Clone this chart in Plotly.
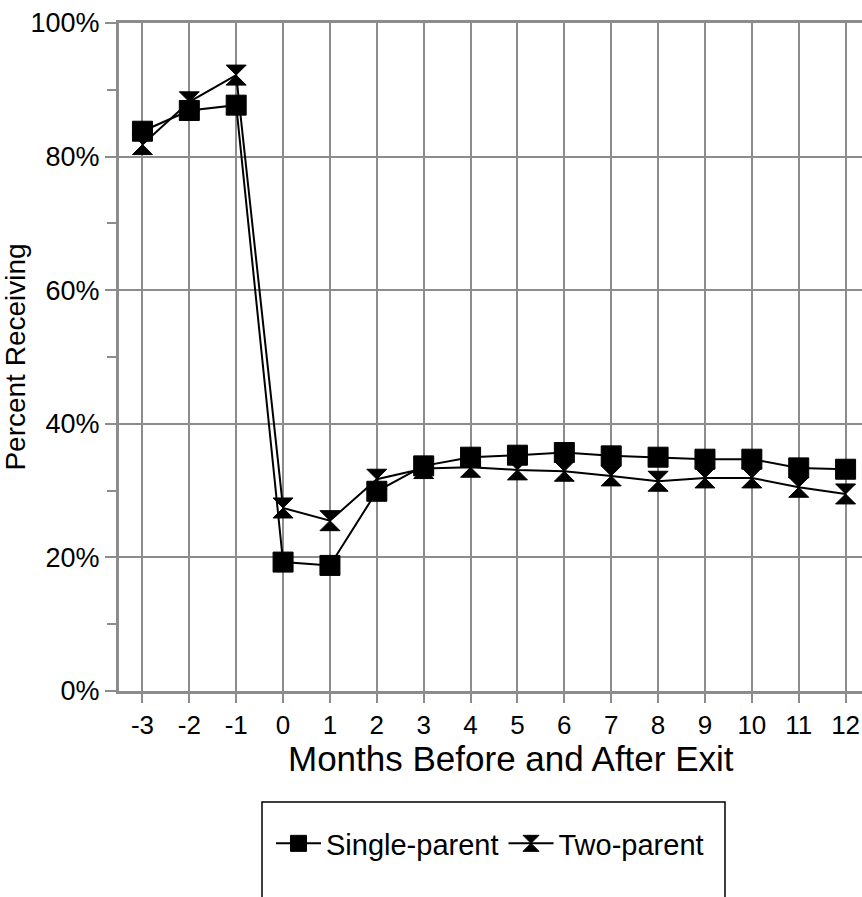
import plotly.graph_objects as go

months = [-3, -2, -1, 0, 1, 2, 3, 4, 5, 6, 7, 8, 9, 10, 11, 12]
tick_labels = ["-3", "-2", "-1", "0", "1", "2", "3", "4", "5", "6", "7", "8", "9", "10", "11", "12"]
single_parent = [83.8, 86.9, 87.7, 19.3, 18.8, 29.9, 33.7, 35.0, 35.3, 35.7, 35.2, 35.0, 34.7, 34.7, 33.4, 33.2]
two_parent = [81.8, 88.2, 92.2, 27.4, 25.5, 31.7, 33.3, 33.5, 33.1, 32.9, 32.2, 31.4, 31.9, 31.9, 30.5, 29.5]

FONT = "Liberation Sans, Arial, sans-serif"
GRID = "#8c8c8c"

W, H = 862, 897
L, R, T, B = 119, 0, 23, 206
pw, ph = W - L - R, H - T - B

def px_x(p):
    return (p - L) / pw

def px_y(p):
    return (H - B - p) / ph

fig = go.Figure()
fig.add_trace(go.Scatter(
    x=months, y=two_parent, name="Two-parent", mode="lines+markers",
    line=dict(color="black", width=2),
    marker=dict(symbol="hourglass", size=20, color="black", line=dict(color="black", width=1)),
))
fig.add_trace(go.Scatter(
    x=months, y=single_parent, name="Single-parent", mode="lines+markers",
    line=dict(color="black", width=2),
    marker=dict(symbol="square", size=20, color="black", line=dict(color="black", width=1)),
))

fig.update_layout(
    width=W, height=H,
    margin=dict(l=L, r=R, t=T, b=B, pad=0, autoexpand=False),
    paper_bgcolor="white", plot_bgcolor="white",
    font=dict(family=FONT, color="black", size=26),
    showlegend=True,
    legend=dict(
        orientation="h", traceorder="reversed",
        x=px_x(271), xanchor="left", y=px_y(818), yanchor="top",
        font=dict(family=FONT, size=29, color="black"),
        bgcolor="rgba(0,0,0,0)", borderwidth=0,
        itemwidth=45, tracegroupgap=0,
    ),
    xaxis=dict(
        range=[-3.5, 12.35], automargin=False,
        tickmode="array", tickvals=months, ticktext=tick_labels,
        showgrid=True, gridcolor=GRID, gridwidth=2,
        showline=True, linecolor=GRID, linewidth=3, mirror=True,
        ticks="outside", ticklen=9, tickwidth=2, tickcolor=GRID,
        tickfont=dict(family=FONT, size=26, color="black"),
        zeroline=False, fixedrange=True,
    ),
    yaxis=dict(
        range=[0, 100], dtick=20, tick0=0, ticksuffix="%", automargin=False,
        showgrid=True, gridcolor=GRID, gridwidth=2,
        showline=True, linecolor=GRID, linewidth=3, mirror=False,
        ticks="outside", ticklen=11, tickwidth=2, tickcolor=GRID,
        minor=dict(dtick=10, ticks="outside", ticklen=9, tickwidth=2, tickcolor=GRID, showgrid=False),
        tickfont=dict(family=FONT, size=27, color="black"),
        title=dict(text="Percent Receiving", font=dict(family=FONT, size=28, color="black"), standoff=2),
        zeroline=False, fixedrange=True,
    ),
    annotations=[dict(
        text="Months Before and After Exit", xref="paper", yref="paper",
        x=px_x(511), y=px_y(758), xanchor="center", yanchor="middle",
        showarrow=False, font=dict(family=FONT, size=35, color="black"),
    )],
    shapes=[dict(
        type="rect", xref="paper", yref="paper",
        x0=px_x(262), x1=px_x(725), y0=px_y(802), y1=px_y(930),
        line=dict(color="black", width=1.5), fillcolor="rgba(0,0,0,0)", layer="above",
    )],
)

fig.write_html(
    "out.html",
    config={"displayModeBar": False},
    post_script="document.body.style.margin='0';document.body.style.overflow='hidden';",
)
